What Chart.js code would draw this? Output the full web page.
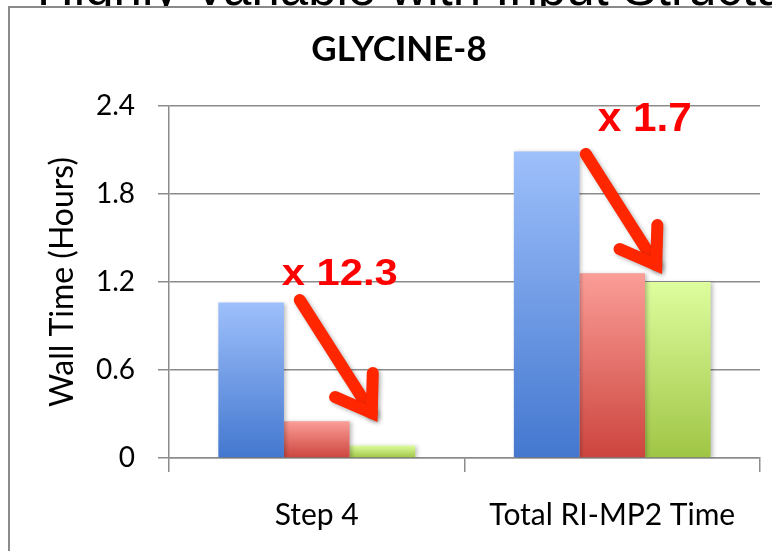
<!DOCTYPE html>
<html>
<head>
<meta charset="utf-8">
<title>GLYCINE-8 wall time</title>
<script src="https://cdn.jsdelivr.net/npm/chart.js@4.4.0/dist/chart.umd.min.js"></script>
<style>
  html, body { margin: 0; padding: 0; background: #fff; }
  canvas { display: block; }
</style>
</head>
<body>
<canvas id="c" width="772" height="551"></canvas>
<script>
// ---- data ----
const categories = ['Step 4', 'Total RI-MP2 Time'];
const seriesA = [1.06, 2.09];   // blue
const seriesB = [0.25, 1.26];   // red
const seriesC = [0.086, 1.20];  // green
const yTicks = [0, 0.6, 1.2, 1.8, 2.4];
const speedups = ['x 12.3', 'x 1.7'];
const chartTitle = 'GLYCINE-8';
const yAxisTitle = 'Wall Time (Hours)';
const slideHeading = 'Highly Variable with Input Structure';

// ---- look ----
const AXIS_GREY = '#8c8c8c';
const BODY_FONT = 'Lato, "Open Sans", sans-serif';
const ARROW_RED = '#ff2600';

// Vertical gradient per bar: light at the top, deeper at the base.
function barGradient(topColor, baseColor) {
  return (ctx) => {
    const chart = ctx.chart;
    if (!chart.chartArea || ctx.type !== 'data') return baseColor;
    const y = chart.scales.y;
    const yTop = y.getPixelForValue(ctx.raw);
    const yBase = y.getPixelForValue(0);
    const g = chart.ctx.createLinearGradient(0, yTop, 0, yBase);
    g.addColorStop(0, topColor);
    g.addColorStop(1, baseColor);
    return g;
  };
}

// Speed-up callouts: arrow from the first bar down toward the last one.
// Offsets are pixels from the category centre; heights are axis values.
const callouts = [
  { cat: 0, text: speedups[0], textDx: -35, textAt: 1.18, textWidth: 116, fontSize: 36,
    from: [-17, 1.077], to: [55, 0.307] },
  { cat: 1, text: speedups[1], textDx: -14.5, textAt: 2.23, textWidth: 94, fontSize: 40,
    from: [-26.5, 2.073], to: [44, 1.316] }
];

function drawArrow(ctx, x0, y0, x1, y1) {
  const ang = Math.atan2(y1 - y0, x1 - x0);
  const barb = 40, spread = 34 * Math.PI / 180;
  ctx.beginPath();
  ctx.moveTo(x0, y0);
  ctx.lineTo(x1, y1);
  ctx.stroke();
  ctx.beginPath();
  ctx.moveTo(x1 - barb * Math.cos(ang - spread), y1 - barb * Math.sin(ang - spread));
  ctx.lineTo(x1, y1);
  ctx.lineTo(x1 - barb * Math.cos(ang + spread), y1 - barb * Math.sin(ang + spread));
  ctx.stroke();
}

const slideDecor = {
  id: 'slideDecor',
  beforeDraw(chart) {
    const ctx = chart.ctx;
    ctx.save();
    ctx.fillStyle = '#fff';
    ctx.fillRect(0, 0, chart.width, chart.height);
    // slide heading peeking above the chart frame
    ctx.fillStyle = '#000';
    ctx.font = '51px "Liberation Sans", Arial, sans-serif';
    ctx.textBaseline = 'alphabetic';
    ctx.textAlign = 'left';
    ctx.fillText(slideHeading, 37, 5);
    // chart frame
    ctx.fillStyle = '#fff';
    ctx.fillRect(9, 7, chart.width, chart.height);
    ctx.strokeStyle = '#8a8a8a';
    ctx.lineWidth = 2;
    ctx.strokeRect(9, 7, chart.width + 20, chart.height + 20);
    ctx.restore();
  },
  beforeDatasetsDraw(chart) {
    const ctx = chart.ctx;
    ctx.save();
    ctx.shadowColor = 'rgba(0,0,0,0.25)';
    ctx.shadowBlur = 4;
    ctx.shadowOffsetX = 2;
    ctx.shadowOffsetY = 1;
  },
  afterDatasetsDraw(chart) {
    chart.ctx.restore();
  },
  afterDraw(chart) {
    const ctx = chart.ctx;
    const xs = chart.scales.x, ys = chart.scales.y;
    callouts.forEach((c) => {
      const cx = xs.getPixelForValue(c.cat);
      // arrow
      ctx.save();
      ctx.strokeStyle = ARROW_RED;
      ctx.lineWidth = 12;
      ctx.lineCap = 'round';
      ctx.lineJoin = 'miter';
      ctx.shadowColor = 'rgba(0,0,0,0.3)';
      ctx.shadowBlur = 4;
      ctx.shadowOffsetX = 2;
      ctx.shadowOffsetY = 2;
      drawArrow(ctx,
        cx + c.from[0], ys.getPixelForValue(c.from[1]),
        cx + c.to[0], ys.getPixelForValue(c.to[1]));
      ctx.restore();
      // label
      ctx.save();
      ctx.fillStyle = '#ff0000';
      ctx.font = 'bold ' + c.fontSize + 'px "Liberation Sans", Arial, sans-serif';
      ctx.textBaseline = 'alphabetic';
      ctx.textAlign = 'left';
      const w = ctx.measureText(c.text).width;
      const tx = cx + c.textDx, ty = ys.getPixelForValue(c.textAt);
      ctx.translate(tx, ty);
      ctx.scale(c.textWidth / w, 1);
      ctx.fillText(c.text, 0, 0);
      ctx.restore();
    });
  }
};

new Chart(document.getElementById('c'), {
  type: 'bar',
  data: {
    labels: categories,
    datasets: [
      { label: 'Series 1', data: seriesA, backgroundColor: barGradient('#9ec0fb', '#4377cf') },
      { label: 'Series 2', data: seriesB, backgroundColor: barGradient('#fb9d97', '#cc453e') },
      { label: 'Series 3', data: seriesC, backgroundColor: barGradient('#defd9e', '#9fc545') }
    ]
  },
  options: {
    responsive: false,
    animation: false,
    devicePixelRatio: 1,
    datasets: { bar: { categoryPercentage: 0.666, barPercentage: 1.0, borderWidth: 0 } },
    layout: { padding: { left: 38, right: 12, top: 0, bottom: 0 } },
    plugins: {
      legend: { display: false },
      tooltip: { enabled: false },
      title: {
        display: true,
        text: chartTitle,
        color: '#000',
        font: { family: BODY_FONT, size: 35, weight: 'bold' },
        padding: { top: 29, bottom: 35 }
      }
    },
    scales: {
      x: {
        grid: { offset: true, drawOnChartArea: false, drawTicks: true, tickLength: 14,
                color: AXIS_GREY, lineWidth: 1.5 },
        border: { color: AXIS_GREY, width: 1.5 },
        ticks: { color: '#000', font: { family: BODY_FONT, size: 30 }, padding: 25, maxRotation: 0 },
        afterFit(s) { s.height = 551 - 458; }
      },
      y: {
        min: 0,
        max: 2.4,
        afterBuildTicks(s) { s.ticks = yTicks.map((v) => ({ value: v })); },
        ticks: { color: '#000', font: { family: BODY_FONT, size: 28 }, padding: 23,
                 callback: (v) => String(v) },
        grid: { color: AXIS_GREY, lineWidth: 1.5, tickLength: 11 },
        border: { color: AXIS_GREY, width: 1.5 },
        title: { display: true, text: yAxisTitle, color: '#000',
                 font: { family: BODY_FONT, size: 32 }, padding: { top: 5, bottom: 0 } },
        afterFit(s) { s.width = 169 - 38; }
      }
    }
  },
  plugins: [slideDecor]
});
</script>
</body>
</html>
